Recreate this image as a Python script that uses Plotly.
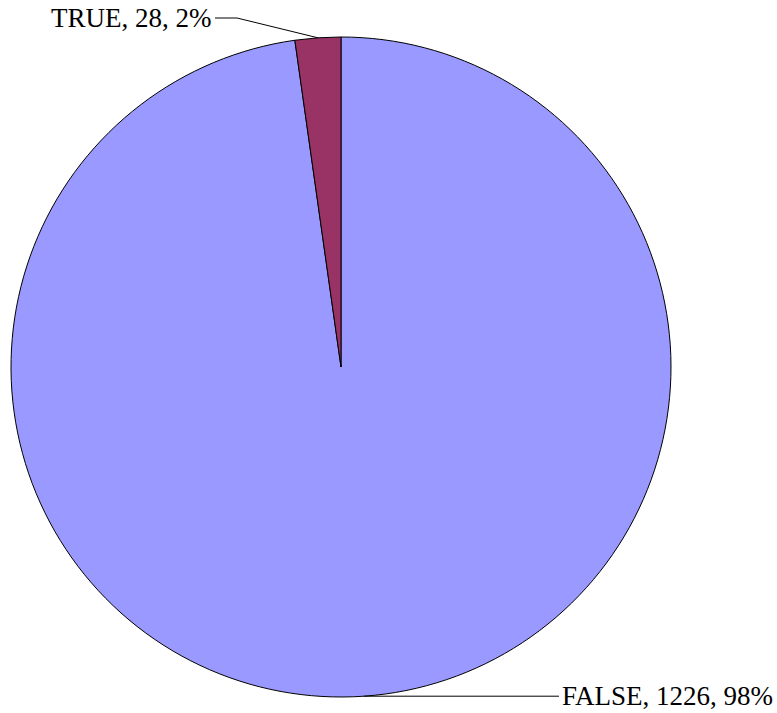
import math
import plotly.graph_objects as go

categories = ["FALSE", "TRUE"]
counts = [1226, 28]
colors = ["#9999FF", "#993366"]

W, H = 777, 713
cx, cy, r = 341, 367, 330  # pixel layout of the pie

fig = go.Figure(go.Pie(
    labels=categories, values=counts, sort=False, direction="clockwise",
    rotation=0, textinfo="none", hoverinfo="label+value+percent",
    marker=dict(colors=colors, line=dict(color="black", width=1)),
    domain=dict(x=[(cx - r) / W, (cx + r) / W], y=[1 - (cy + r) / H, 1 - (cy - r) / H]),
    showlegend=False,
))

total = sum(counts)
font = dict(family="Liberation Serif, Times New Roman, serif", size=27, color="black")
shapes, annotations = [], []
cum = 0
for cat, v in zip(categories, counts):
    mid = (cum + v / 2) / total * 2 * math.pi
    cum += v
    ex = cx + r * math.sin(mid)
    ey = cy - r * math.cos(mid)
    pct = round(v / total * 100)
    text = f"{cat}, {v}, {pct}%"
    if math.cos(mid) > 0:  # top half -> label up-left
        ky, kx = 18, 237
        lx = 215
        pts = [(ex, ey), (kx, ky), (lx, ky)]
        anchor = "right"
        tx = lx - 2
    else:
        ky = ey
        lx = 559
        pts = [(ex, ey), (lx, ky)]
        anchor = "left"
        tx = lx + 1
    path = "M " + " L ".join(f"{x / W} {1 - y / H}" for x, y in pts)
    shapes.append(dict(type="path", path=path, xref="paper", yref="paper",
                       line=dict(color="black", width=1)))
    annotations.append(dict(x=tx / W, y=1 - ky / H, xref="paper", yref="paper",
                            text=text, showarrow=False, xanchor=anchor, yanchor="middle",
                            font=font))

fig.update_layout(
    width=W, height=H, margin=dict(l=0, r=0, t=0, b=0),
    paper_bgcolor="white", plot_bgcolor="white",
    shapes=shapes, annotations=annotations,
)
fig.write_html(
    "out.html",
    config={"displayModeBar": False},
    post_script="document.body.style.margin='0';document.body.style.overflow='hidden';",
)
